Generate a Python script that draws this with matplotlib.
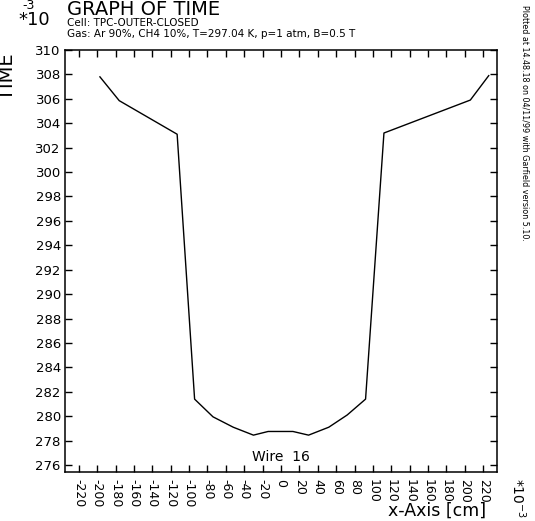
import matplotlib

matplotlib.use("Agg")

import matplotlib.pyplot as plt

# x position of the drift-line origin (10^-3 cm) and drift time (10^-3 us)
x_pos = [-197, -176, -113, -94, -74, -52, -30, -14, 13, 30, 52, 72, 92, 112, 206, 226]
drift_time = [307.8, 305.85, 303.1, 281.4, 279.95, 279.1, 278.45, 278.75,
              278.75, 278.45, 279.1, 280.1, 281.4, 303.2, 305.9, 307.9]

x_ticks = list(range(-220, 221, 20))
y_ticks = list(range(276, 311, 2))

title = "GRAPH OF TIME"
cell_line = "Cell: TPC-OUTER-CLOSED"
gas_line = "Gas: Ar 90%, CH4 10%, T=297.04 K, p=1 atm, B=0.5 T"
stamp = "Plotted at 14.48.18 on 04/11/99 with Garfield version 5.10."
wire_label = "Wire  16"

plt.rcParams["font.family"] = ["DejaVu Sans"]
plt.rcParams["axes.unicode_minus"] = False

fig = plt.figure(figsize=(5.35, 5.21), dpi=100)
ax = fig.add_axes([65 / 535, 1 - 472 / 521, 432 / 535, 422 / 521])

ax.plot(x_pos, drift_time, color="black", linewidth=1.0)

ax.set_xlim(-235, 235)
ax.set_ylim(275.43, 310)
ax.set_xticks(x_ticks)
ax.set_yticks(y_ticks)
ax.set_xticklabels([str(v) for v in x_ticks], rotation=-90, fontsize=9)
ax.set_yticklabels([str(v) for v in y_ticks], fontsize=9.5)
ax.tick_params(direction="in", length=5, width=1, top=True, right=True)
ax.tick_params(axis="x", pad=5)
ax.tick_params(axis="y", pad=3)
for spine in ax.spines.values():
    spine.set_linewidth(1.1)

ax.text(0, 276.65, wire_label, ha="center", va="center", fontsize=10)

fig.text(67 / 535, 1 - 15 / 521, title, fontsize=14, ha="left", va="baseline")
fig.text(18 / 535, 1 - 25 / 521, "*10", fontsize=13, ha="left", va="baseline")
fig.text(22 / 535, 1 - 9 / 521, "-3", fontsize=9, ha="left", va="baseline")
fig.text(67 / 535, 1 - 26 / 521, cell_line, fontsize=7.5, ha="left", va="baseline")
fig.text(67 / 535, 1 - 37 / 521, gas_line, fontsize=7.5, ha="left", va="baseline")
fig.text(8 / 535, 1 - 77 / 521, "TIME", fontsize=14, rotation=90, ha="center", va="center")
fig.text(525 / 535, 1 - 5 / 521, stamp, fontsize=5.8, rotation=-90, ha="center", va="top")
fig.text(437 / 535, 1 - 511 / 521, "x-Axis [cm]", fontsize=12.5, ha="center", va="center")
fig.text(518 / 535, 1 - 478 / 521, "*10$^{-3}$", fontsize=10, rotation=-90, ha="center", va="top")

fig.savefig("out.png", dpi=100)
plt.close(fig)
